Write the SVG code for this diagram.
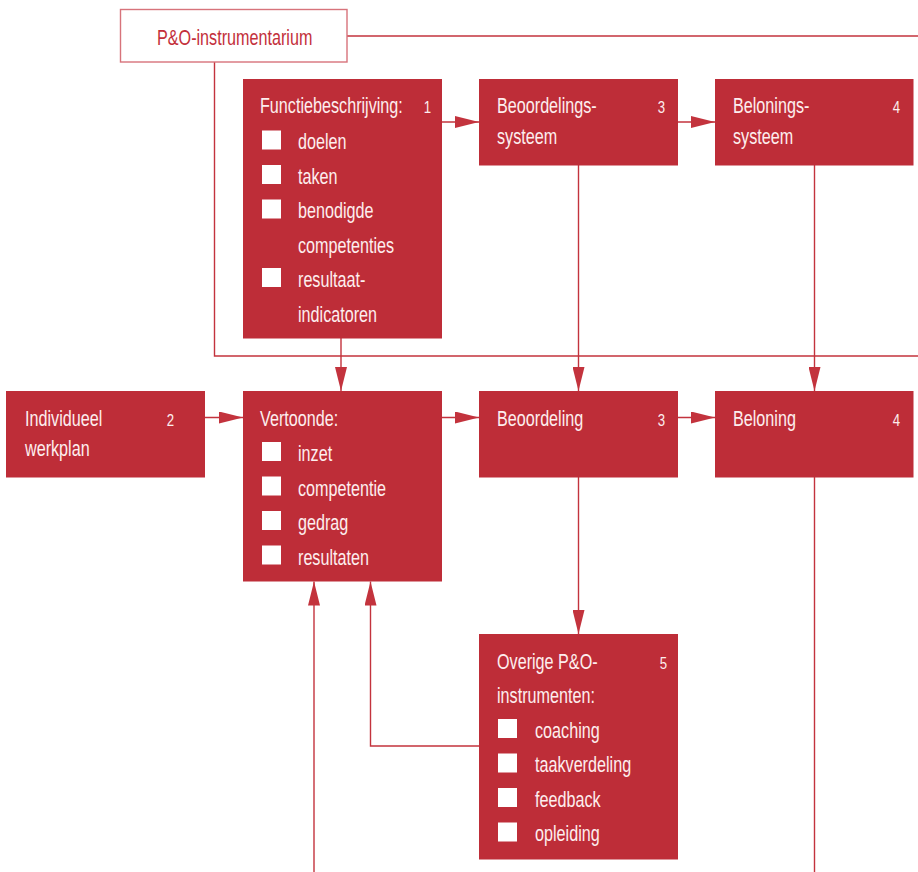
<svg xmlns="http://www.w3.org/2000/svg" width="918" height="872" viewBox="0 0 918 872">
<style>
.box{fill:#be2d38}
.t{font-family:"Liberation Sans",Arial,sans-serif;font-size:22px;fill:#fdeeee}
.n{font-family:"Liberation Sans",Arial,sans-serif;font-size:16.5px;fill:#fdeeee;text-anchor:end}
.sq{fill:#ffffff}
.c{fill:none;stroke:#c3333d;stroke-width:1.4}
</style>
<defs>
<marker id="ah" markerUnits="userSpaceOnUse" markerWidth="24" markerHeight="12" refX="24" refY="6" orient="auto">
<path d="M0,0 L24,6 L0,12 z" fill="#c3333d"/>
</marker>
</defs>
<rect width="918" height="872" fill="#ffffff"/>
<g id="connectors">
<path class="c" d="M347,36 H918"/>
<path class="c" d="M214.5,62 V356 H918"/>
<path class="c" d="M442,122 H479" marker-end="url(#ah)"/>
<path class="c" d="M678,122 H715" marker-end="url(#ah)"/>
<path class="c" d="M341,338 V391" marker-end="url(#ah)"/>
<path class="c" d="M578.5,165 V391" marker-end="url(#ah)"/>
<path class="c" d="M814.5,165 V391" marker-end="url(#ah)"/>
<path class="c" d="M205,417.5 H243" marker-end="url(#ah)"/>
<path class="c" d="M442,417.5 H479" marker-end="url(#ah)"/>
<path class="c" d="M678,417.5 H715" marker-end="url(#ah)"/>
<path class="c" d="M578.5,477 V634" marker-end="url(#ah)"/>
<path class="c" d="M479,746 H370.5 V581.5" marker-end="url(#ah)"/>
<path class="c" d="M314,872 V581.5" marker-end="url(#ah)"/>
<path class="c" d="M814.5,477 V872"/>
</g>
<g id="po-instrumentarium">
<rect x="120.5" y="9.5" width="226.5" height="52.5" fill="#ffffff" stroke="#d7737b" stroke-width="1.4"/>
<text transform="translate(157,45) scale(.735,1)" font-family="Liberation Sans,Arial,sans-serif" font-size="22" fill="#c3303b">P&amp;O-instrumentarium</text>
</g>
<g id="functiebeschrijving">
<rect class="box" x="243" y="79" width="199" height="259.5"/>
<text class="t" transform="translate(260,113) scale(.735,1)">Functiebeschrijving:</text>
<text class="n" transform="translate(431,113) scale(.8,1)">1</text>
<rect class="sq" x="262" y="130.5" width="19" height="19"/>
<text class="t" transform="translate(298,149) scale(.735,1)">doelen</text>
<rect class="sq" x="262" y="165" width="19" height="19"/>
<text class="t" transform="translate(298,183.5) scale(.735,1)">taken</text>
<rect class="sq" x="262" y="199.5" width="19" height="19"/>
<text class="t" transform="translate(298,218) scale(.735,1)">benodigde</text>
<text class="t" transform="translate(298,252.5) scale(.735,1)">competenties</text>
<rect class="sq" x="262" y="268" width="19" height="19"/>
<text class="t" transform="translate(298,287) scale(.735,1)">resultaat-</text>
<text class="t" transform="translate(298,321.5) scale(.735,1)">indicatoren</text>
</g>
<g id="beoordelingssysteem">
<rect class="box" x="479" y="79" width="199" height="86.5"/>
<text class="t" transform="translate(497,113) scale(.735,1)">Beoordelings-</text>
<text class="t" transform="translate(497,143.5) scale(.735,1)">systeem</text>
<text class="n" transform="translate(665,113) scale(.8,1)">3</text>
</g>
<g id="beloningssysteem">
<rect class="box" x="715" y="79" width="198.5" height="86.5"/>
<text class="t" transform="translate(733,113) scale(.735,1)">Belonings-</text>
<text class="t" transform="translate(733,143.5) scale(.735,1)">systeem</text>
<text class="n" transform="translate(900,113) scale(.8,1)">4</text>
</g>
<g id="individueel-werkplan">
<rect class="box" x="6" y="391" width="199" height="86.5"/>
<text class="t" transform="translate(25,425.5) scale(.735,1)">Individueel</text>
<text class="t" transform="translate(25,455.5) scale(.735,1)">werkplan</text>
<text class="n" transform="translate(174,425.5) scale(.8,1)">2</text>
</g>
<g id="vertoonde">
<rect class="box" x="243" y="391" width="199" height="190.5"/>
<text class="t" transform="translate(260,425.5) scale(.735,1)">Vertoonde:</text>
<rect class="sq" x="262" y="442" width="19" height="19"/>
<text class="t" transform="translate(298,461) scale(.735,1)">inzet</text>
<rect class="sq" x="262" y="476.5" width="19" height="19"/>
<text class="t" transform="translate(298,495.5) scale(.735,1)">competentie</text>
<rect class="sq" x="262" y="511" width="19" height="19"/>
<text class="t" transform="translate(298,530) scale(.735,1)">gedrag</text>
<rect class="sq" x="262" y="545.5" width="19" height="19"/>
<text class="t" transform="translate(298,564.5) scale(.735,1)">resultaten</text>
</g>
<g id="beoordeling">
<rect class="box" x="479" y="391" width="199" height="86.5"/>
<text class="t" transform="translate(497,425.5) scale(.735,1)">Beoordeling</text>
<text class="n" transform="translate(665,425.5) scale(.8,1)">3</text>
</g>
<g id="beloning">
<rect class="box" x="715" y="391" width="198.5" height="86.5"/>
<text class="t" transform="translate(733,425.5) scale(.735,1)">Beloning</text>
<text class="n" transform="translate(900,425.5) scale(.8,1)">4</text>
</g>
<g id="overige-po-instrumenten">
<rect class="box" x="479" y="634" width="199" height="225.5"/>
<text class="t" transform="translate(497,668.5) scale(.735,1)">Overige P&amp;O-</text>
<text class="t" transform="translate(497,703) scale(.735,1)">instrumenten:</text>
<text class="n" transform="translate(667,668.5) scale(.8,1)">5</text>
<rect class="sq" x="498" y="719" width="19" height="19"/>
<text class="t" transform="translate(535,737.5) scale(.735,1)">coaching</text>
<rect class="sq" x="498" y="753.5" width="19" height="19"/>
<text class="t" transform="translate(535,772) scale(.735,1)">taakverdeling</text>
<rect class="sq" x="498" y="788" width="19" height="19"/>
<text class="t" transform="translate(535,806.5) scale(.735,1)">feedback</text>
<rect class="sq" x="498" y="822.5" width="19" height="19"/>
<text class="t" transform="translate(535,841) scale(.735,1)">opleiding</text>
</g>
</svg>
